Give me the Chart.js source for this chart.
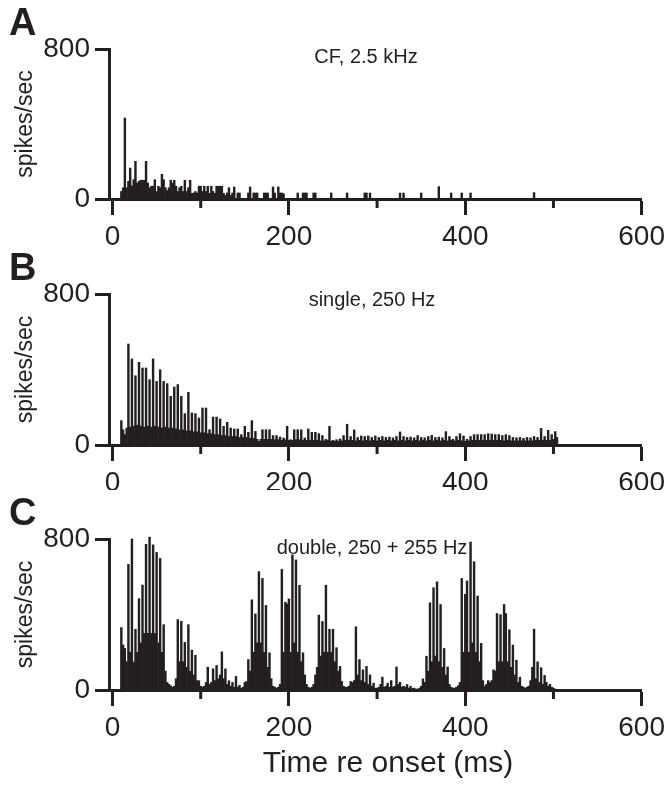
<!DOCTYPE html>
<html>
<head>
<meta charset="utf-8">
<script src="https://cdn.jsdelivr.net/npm/chart.js@4.4.1/dist/chart.umd.min.js"></script>
<style>
  html, body { margin: 0; padding: 0; background: #fff; }
  #wrap { position: relative; width: 670px; height: 785px; }
  canvas { position: absolute; left: 0; }
</style>
</head>
<body>
<div id="wrap">
  <canvas id="chartA" width="670" height="245" style="top:0"></canvas>
  <canvas id="chartB" width="670" height="245" style="top:245px"></canvas>
  <canvas id="chartC" width="670" height="295" style="top:490px"></canvas>
</div>
<script>
// PSTH, 2 ms bins, bin start times 0, 2, 4 ... ms (spikes/sec)
const binMs = 2;
const xTicks = [0, 200, 400, 600];
const xMinorTicks = [100, 300, 500];
const yTicks = [0, 800];

// A: CF, 2.5 kHz
const ratesA = [
  0,0,0,0,0,40,60,432,60,94,165,70,103,201,85,94,100,100,100,201,85,60,68,68,103,
  40,68,60,132,103,60,45,60,100,85,100,68,40,60,68,40,100,40,60,100,30,32,40,32,68,
  68,40,68,40,68,30,68,40,30,68,68,68,68,30,20,32,60,20,32,64,0,32,32,0,0,
  0,0,32,64,0,32,32,32,0,0,0,32,32,32,0,0,64,32,0,64,32,32,28,0,0,
  0,0,0,0,0,32,0,0,32,32,32,0,0,0,32,32,0,0,0,0,0,0,0,0,32,
  0,0,0,0,0,0,0,0,32,0,0,0,0,0,0,0,0,0,32,32,0,32,0,0,0,
  0,0,0,0,0,0,0,0,0,0,0,0,0,32,0,32,0,0,0,0,0,0,0,0,0,
  32,0,0,0,0,0,0,0,0,0,66,0,0,0,0,0,0,32,0,0,0,0,0,32,0,
  0,0,0,32,0,0,0,0,0,0,0,0,0,0,0,0,0,0,0,0,0,0,0,0,0,
  0,0,0,0,0,0,0,0,0,0,0,0,0,0,34,0,0,0,0,0,0,0,0,0,0
];

// B: single, 250 Hz
const ratesB = [
  0,0,0,0,0,129,81,55,90,535,95,456,100,367,105,438,100,408,95,408,100,346,95,456,100,
  337,95,399,90,337,95,325,90,258,90,307,85,320,80,258,80,166,75,279,75,170,70,166,70,143,
  65,196,65,196,60,81,60,148,55,148,55,138,50,99,50,120,45,90,45,85,45,85,40,55,40,
  99,40,67,35,129,35,72,30,19,30,81,30,81,30,81,30,50,28,50,28,42,25,37,28,99,
  25,28,25,81,28,81,28,81,25,37,25,85,25,67,25,67,25,60,22,50,22,30,25,99,20,
  25,20,28,20,32,22,50,25,110,25,45,25,80,22,40,25,48,22,45,25,48,22,40,25,48,
  22,40,25,45,22,40,25,42,22,38,25,45,22,69,25,45,22,40,25,42,22,38,25,50,22,
  40,25,38,22,45,25,51,22,40,25,42,22,38,25,71,22,45,25,30,22,45,25,60,22,48,
  20,30,22,45,25,55,25,55,25,55,25,55,25,60,25,58,25,55,25,55,25,50,22,55,25,
  50,22,40,22,38,22,40,22,35,22,40,22,38,22,45,25,40,25,88,25,45,25,78,25,55,
  30,71,40,0
];

// C: double, 250 + 255 Hz
const ratesC = [
  0,0,0,0,0,331,238,220,150,666,200,800,148,322,200,484,250,556,300,772,300,810,300,769,300,
  729,250,697,200,346,100,40,30,22,15,20,60,373,150,364,150,252,120,346,100,211,80,184,50,49,
  20,15,20,40,121,30,40,112,50,130,60,80,202,60,112,30,49,20,40,15,72,15,25,10,15,
  40,45,161,100,478,200,403,250,627,250,591,200,448,120,197,60,20,15,10,15,30,639,200,465,456,
  483,200,716,250,689,200,555,150,197,80,30,15,10,15,30,80,120,397,180,363,200,555,200,322,200,
  322,150,224,100,125,45,20,15,15,20,45,40,50,335,80,161,50,107,40,125,30,80,20,36,10,
  10,15,30,68,15,20,36,15,50,15,20,122,30,41,15,20,15,29,10,20,8,10,5,5,10,
  20,59,40,179,100,462,150,542,180,573,150,453,120,220,80,122,30,15,10,10,15,23,40,591,200,
  507,578,200,784,250,680,200,498,150,247,50,20,30,50,40,50,107,100,405,150,399,150,453,405,150,
  319,120,238,80,158,40,68,20,15,10,15,20,50,120,322,60,149,40,118,30,77,41,20,30,15,
  10,5
];

const INK = '#231f20';
const FONT = "'Liberation Sans', Arial, Helvetica, sans-serif";

function toPoints(rates) {
  return rates.map((v, i) => ({ x: i * binMs, y: v }));
}

// panel letter, stimulus label, x title and the short minor ticks on the time axis
const panelDecor = {
  id: 'panelDecor',
  afterDraw(chart, args, opts) {
    const ctx = chart.ctx;
    const xs = chart.scales.x;
    ctx.save();
    ctx.strokeStyle = INK;
    ctx.lineWidth = 3;
    xMinorTicks.forEach(v => {
      const px = xs.getPixelForValue(v);
      ctx.beginPath();
      ctx.moveTo(px, xs.top);
      ctx.lineTo(px, xs.top + 9);
      ctx.stroke();
    });
    ctx.fillStyle = INK;
    ctx.font = 'bold 38px ' + FONT;
    ctx.textAlign = 'left';
    ctx.textBaseline = 'alphabetic';
    ctx.fillText(opts.letter, 9, 35);
    ctx.font = '20px ' + FONT;
    ctx.textAlign = 'center';
    ctx.textBaseline = 'middle';
    ctx.fillText(opts.label, opts.labelX, opts.labelY);
    if (opts.xTitle) {
      ctx.font = '30px ' + FONT;
      ctx.fillText(opts.xTitle, 388, 274);
    }
    ctx.restore();
  }
};

function makePanel(id, rates, letter, label, labelX, labelY, xHeight, xTitle) {
  return new Chart(document.getElementById(id), {
    type: 'bar',
    data: {
      datasets: [{
        data: toPoints(rates),
        backgroundColor: INK,
        borderWidth: 0,
        barPercentage: 1,
        categoryPercentage: 1,
        grouped: false,
        clip: false
      }]
    },
    options: {
      responsive: false,
      animation: false,
      layout: { padding: { top: 49, right: 27, bottom: 0, left: 0 } },
      plugins: {
        legend: { display: false },
        tooltip: { enabled: false },
        panelDecor: { letter, label, labelX, labelY, xTitle }
      },
      scales: {
        x: {
          type: 'linear',
          min: -4,
          max: 600,
          offset: false,
          afterBuildTicks: s => { s.ticks = xTicks.map(v => ({ value: v })); },
          afterFit: s => { s.height = xHeight; },
          border: { color: INK, width: 3 },
          grid: { offset: false, drawOnChartArea: false, tickLength: 16, tickWidth: 3, tickColor: INK },
          ticks: { color: INK, font: { family: FONT, size: 28 }, padding: 5, maxRotation: 0, autoSkip: false }
        },
        y: {
          min: 0,
          max: 800,
          afterBuildTicks: s => { s.ticks = yTicks.map(v => ({ value: v })); },
          afterFit: s => { s.width = 109; },
          border: { color: INK, width: 3 },
          grid: { drawOnChartArea: false, tickLength: 14, tickWidth: 3, tickColor: INK },
          ticks: { color: INK, font: { family: FONT, size: 28 }, padding: 5 },
          title: {
            display: true,
            text: 'spikes/sec',
            color: INK,
            font: { family: FONT, size: 23 },
            padding: { top: 12, bottom: 0 }
          }
        }
      }
    },
    plugins: [panelDecor]
  });
}

makePanel('chartA', ratesA, 'A', 'CF, 2.5 kHz', 366, 57, 46, null);
makePanel('chartB', ratesB, 'B', 'single, 250 Hz', 372, 55, 45, null);
makePanel('chartC', ratesC, 'C', 'double, 250 + 255 Hz', 372, 58, 95, 'Time re onset (ms)');
</script>
</body>
</html>
